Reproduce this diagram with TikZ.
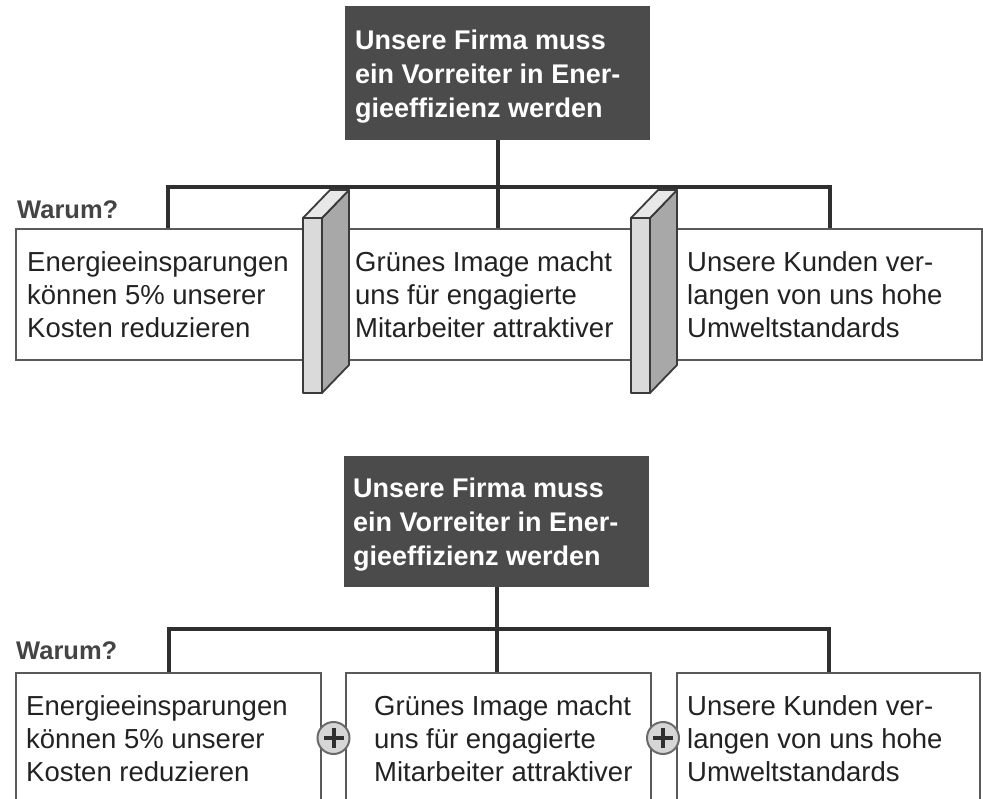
\documentclass[tikz,border=0pt]{standalone}
\usepackage{fontspec}
\setmainfont{Liberation Sans}
\definecolor{goalgray}{HTML}{4B4B4B}
\definecolor{boxline}{HTML}{5A5A5A}
\definecolor{txt}{HTML}{222222}
\definecolor{conncol}{HTML}{2F2F2F}
\definecolor{wallfront}{HTML}{DADADA}
\definecolor{wallside}{HTML}{A8A8A8}
\definecolor{walltop}{HTML}{E8E8E8}
\definecolor{wallline}{HTML}{3A3A3A}
\definecolor{warumcol}{HTML}{444444}
\definecolor{plusfill}{HTML}{D6D6D6}
\definecolor{plusline}{HTML}{6A6A6A}
\begin{document}
\begin{tikzpicture}[x=1pt,y=-1pt,
  goal/.style={fill=goalgray, draw=none, inner sep=0pt, minimum width=305pt},
  goaltext/.style={anchor=base west, inner sep=0pt, align=left, text=white,
    font=\fontsize{27}{34}\selectfont\bfseries},
  reason/.style={draw=boxline, line width=1.5pt, fill=white, inner sep=0pt},
  reasontext/.style={anchor=base west, inner sep=0pt, align=left, text=txt,
    font=\fontsize{27.5}{33}\selectfont},
  warum/.style={anchor=base west, inner sep=0pt, text=warumcol,
    font=\fontsize{25.5}{28}\selectfont\bfseries},
  conn/.style={draw=conncol, line width=4pt},
  plusnode/.style={circle, draw=plusline, line width=2pt, fill=plusfill,
    minimum size=32pt, inner sep=0pt},
  plussign/.style={draw=conncol, line width=4pt},
  partition/.pic={
    \filldraw[fill=wallfront, draw=wallline, line width=1.8pt, line join=round]
      (0,0) rectangle (19,175);
    \filldraw[fill=wallside, draw=wallline, line width=1.8pt, line join=round]
      (19,0) -- (46,-28) -- (46,147) -- (19,175) -- cycle;
    \filldraw[fill=walltop, draw=wallline, line width=1.8pt, line join=round]
      (0,0) -- (27,-28) -- (46,-28) -- (19,0) -- cycle;
  }
]
\useasboundingbox (0,0) rectangle (983,799);
\clip (0,0) rectangle (983,799);

% ================= upper diagram =================
\node[goal, minimum height=134pt] (T1) at (497.5,73) {};
\node[goaltext] (T1t) at (355,118) {Unsere Firma muss\\ein Vorreiter in Ener-\\gieeffizienz werden};

\node[reason, minimum width=304pt, minimum height=131pt] (L1) at (168,294.5) {};
\node[reason, minimum width=305pt, minimum height=131pt] (M1) at (498.5,294.5) {};
\node[reason, minimum width=305pt, minimum height=131pt] (R1) at (829.5,294.5) {};

\coordinate (bar1) at (497.5,187);
\draw[conn] (T1.south) -- (T1.south |- M1.north);
\draw[conn] (L1.north) |- (bar1) -| (R1.north);

\node[warum] (W1) at (17,219) {Warum?};

\node[reasontext] (L1t) at (27,338) {Energieeinsparungen\\können 5\% unserer\\Kosten reduzieren};
\node[reasontext] (M1t) at (355,338) {Grünes Image macht\\uns für engagierte\\Mitarbeiter attraktiver};
\node[reasontext] (R1t) at (687,338) {Unsere Kunden ver-\\langen von uns hohe\\Umweltstandards};

\pic at (303,218) {partition};
\pic at (631,218) {partition};

% ================= lower diagram =================
\node[goal, minimum height=131pt] (T2) at (496.5,521.5) {};
\node[goaltext] (T2t) at (353,565) {Unsere Firma muss\\ein Vorreiter in Ener-\\gieeffizienz werden};

\node[reason, minimum width=305pt, minimum height=142pt] (L2) at (168.5,744) {};
\node[reason, minimum width=305pt, minimum height=142pt] (M2) at (498.5,744) {};
\node[reason, minimum width=303pt, minimum height=142pt] (R2) at (828.5,744) {};

\coordinate (bar2) at (496.5,629);
\draw[conn] (T2.south) -- (T2.south |- M2.north);
\draw[conn] (L2.north) |- (bar2) -| (R2.north);

\node[warum] (W2) at (16,659) {Warum?};

\node[reasontext] (L2t) at (26,781) {Energieeinsparungen\\können 5\% unserer\\Kosten reduzieren};
\node[reasontext] (M2t) at (374,781) {Grünes Image macht\\uns für engagierte\\Mitarbeiter attraktiver};
\node[reasontext] (R2t) at (687,781) {Unsere Kunden ver-\\langen von uns hohe\\Umweltstandards};

\node[plusnode] (P1) at (333.5,738) {};
\node[plusnode] (P2) at (663,738) {};
\draw[plussign] (P1.center) ++(-10,0) -- ++(20,0);
\draw[plussign] (P1.center) ++(0,-10) -- ++(0,20);
\draw[plussign] (P2.center) ++(-10,0) -- ++(20,0);
\draw[plussign] (P2.center) ++(0,-10) -- ++(0,20);
\end{tikzpicture}
\end{document}
